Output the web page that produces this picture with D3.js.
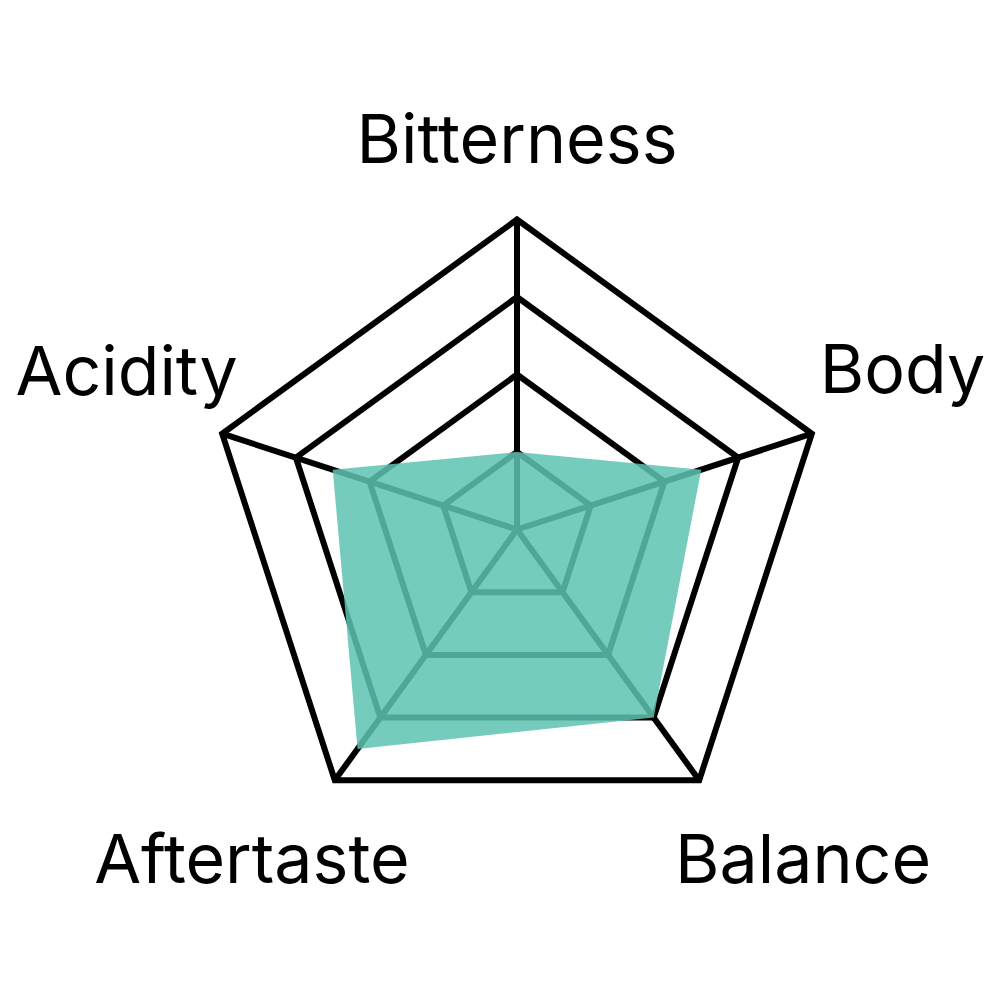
<!DOCTYPE html>
<html>
<head>
<meta charset="utf-8">
<script src="https://cdn.jsdelivr.net/npm/d3@7"></script>
<style>
  html, body { margin: 0; padding: 0; background: #fff; }
  text { font-family: Inter, "Noto Sans", sans-serif; }
</style>
</head>
<body>
<div id="vis"></div>
<script>
// dados do gráfico
const axes = ["Bitterness", "Body", "Balance", "Aftertaste", "Acidity"];
const values = [1, 2.5, 3, 3.5, 2.5];
const levels = [1, 2, 3, 4];
const maxValue = 4;

// layout
const W = 1000, H = 1000;
const cx = 517, cy = 529.5;
const R = 310;
const labelRadius = 400;
// pequenos ajustes de posição dos rótulos (dx, dy até a linha de base)
const labelNudge = [[0, 33], [5, -13], [51, 30], [-30, 30], [-10, -11]];

const svg = d3.select("#vis")
    .append("svg")
    .attr("width", W)
    .attr("height", H)
    .append("g")
    .attr("transform", `translate(${cx}, ${cy})`);

const r = d3.scaleLinear().domain([0, maxValue]).range([0, R]);
const angle = d3.scalePoint()
    .domain(axes)
    .range([0, 2 * Math.PI * (axes.length - 1) / axes.length]);

const pt = (a, rad) => [rad * Math.sin(angle(a)), -rad * Math.cos(angle(a))];

// grade
const grid = svg.append("g")
    .attr("fill", "none")
    .attr("stroke", "#000")
    .attr("stroke-width", 6)
    .attr("stroke-linejoin", "miter");

grid.selectAll("path.level")
    .data(levels)
    .enter()
    .append("path")
    .attr("class", "level")
    .attr("d", lv => d3.line()(axes.map(a => pt(a, r(lv)))) + "Z");

grid.selectAll("line.spoke")
    .data(axes)
    .enter()
    .append("line")
    .attr("class", "spoke")
    .attr("x1", 0).attr("y1", 0)
    .attr("x2", a => pt(a, r(maxValue))[0])
    .attr("y2", a => pt(a, r(maxValue))[1]);

// área dos valores
svg.append("path")
    .datum(values)
    .attr("d", vs => d3.line()(vs.map((v, i) => pt(axes[i], r(v)))) + "Z")
    .attr("fill", "rgb(94,195,178)")
    .attr("fill-opacity", 0.855);

// rótulos
svg.selectAll("text.label")
    .data(axes)
    .enter()
    .append("text")
    .attr("class", "label")
    .attr("x", (a, i) => pt(a, labelRadius)[0] + labelNudge[i][0])
    .attr("y", (a, i) => pt(a, labelRadius)[1] + labelNudge[i][1])
    .attr("text-anchor", "middle")
    .attr("font-size", 68)
    .attr("fill", "#000")
    .text(a => a);
</script>
</body>
</html>
